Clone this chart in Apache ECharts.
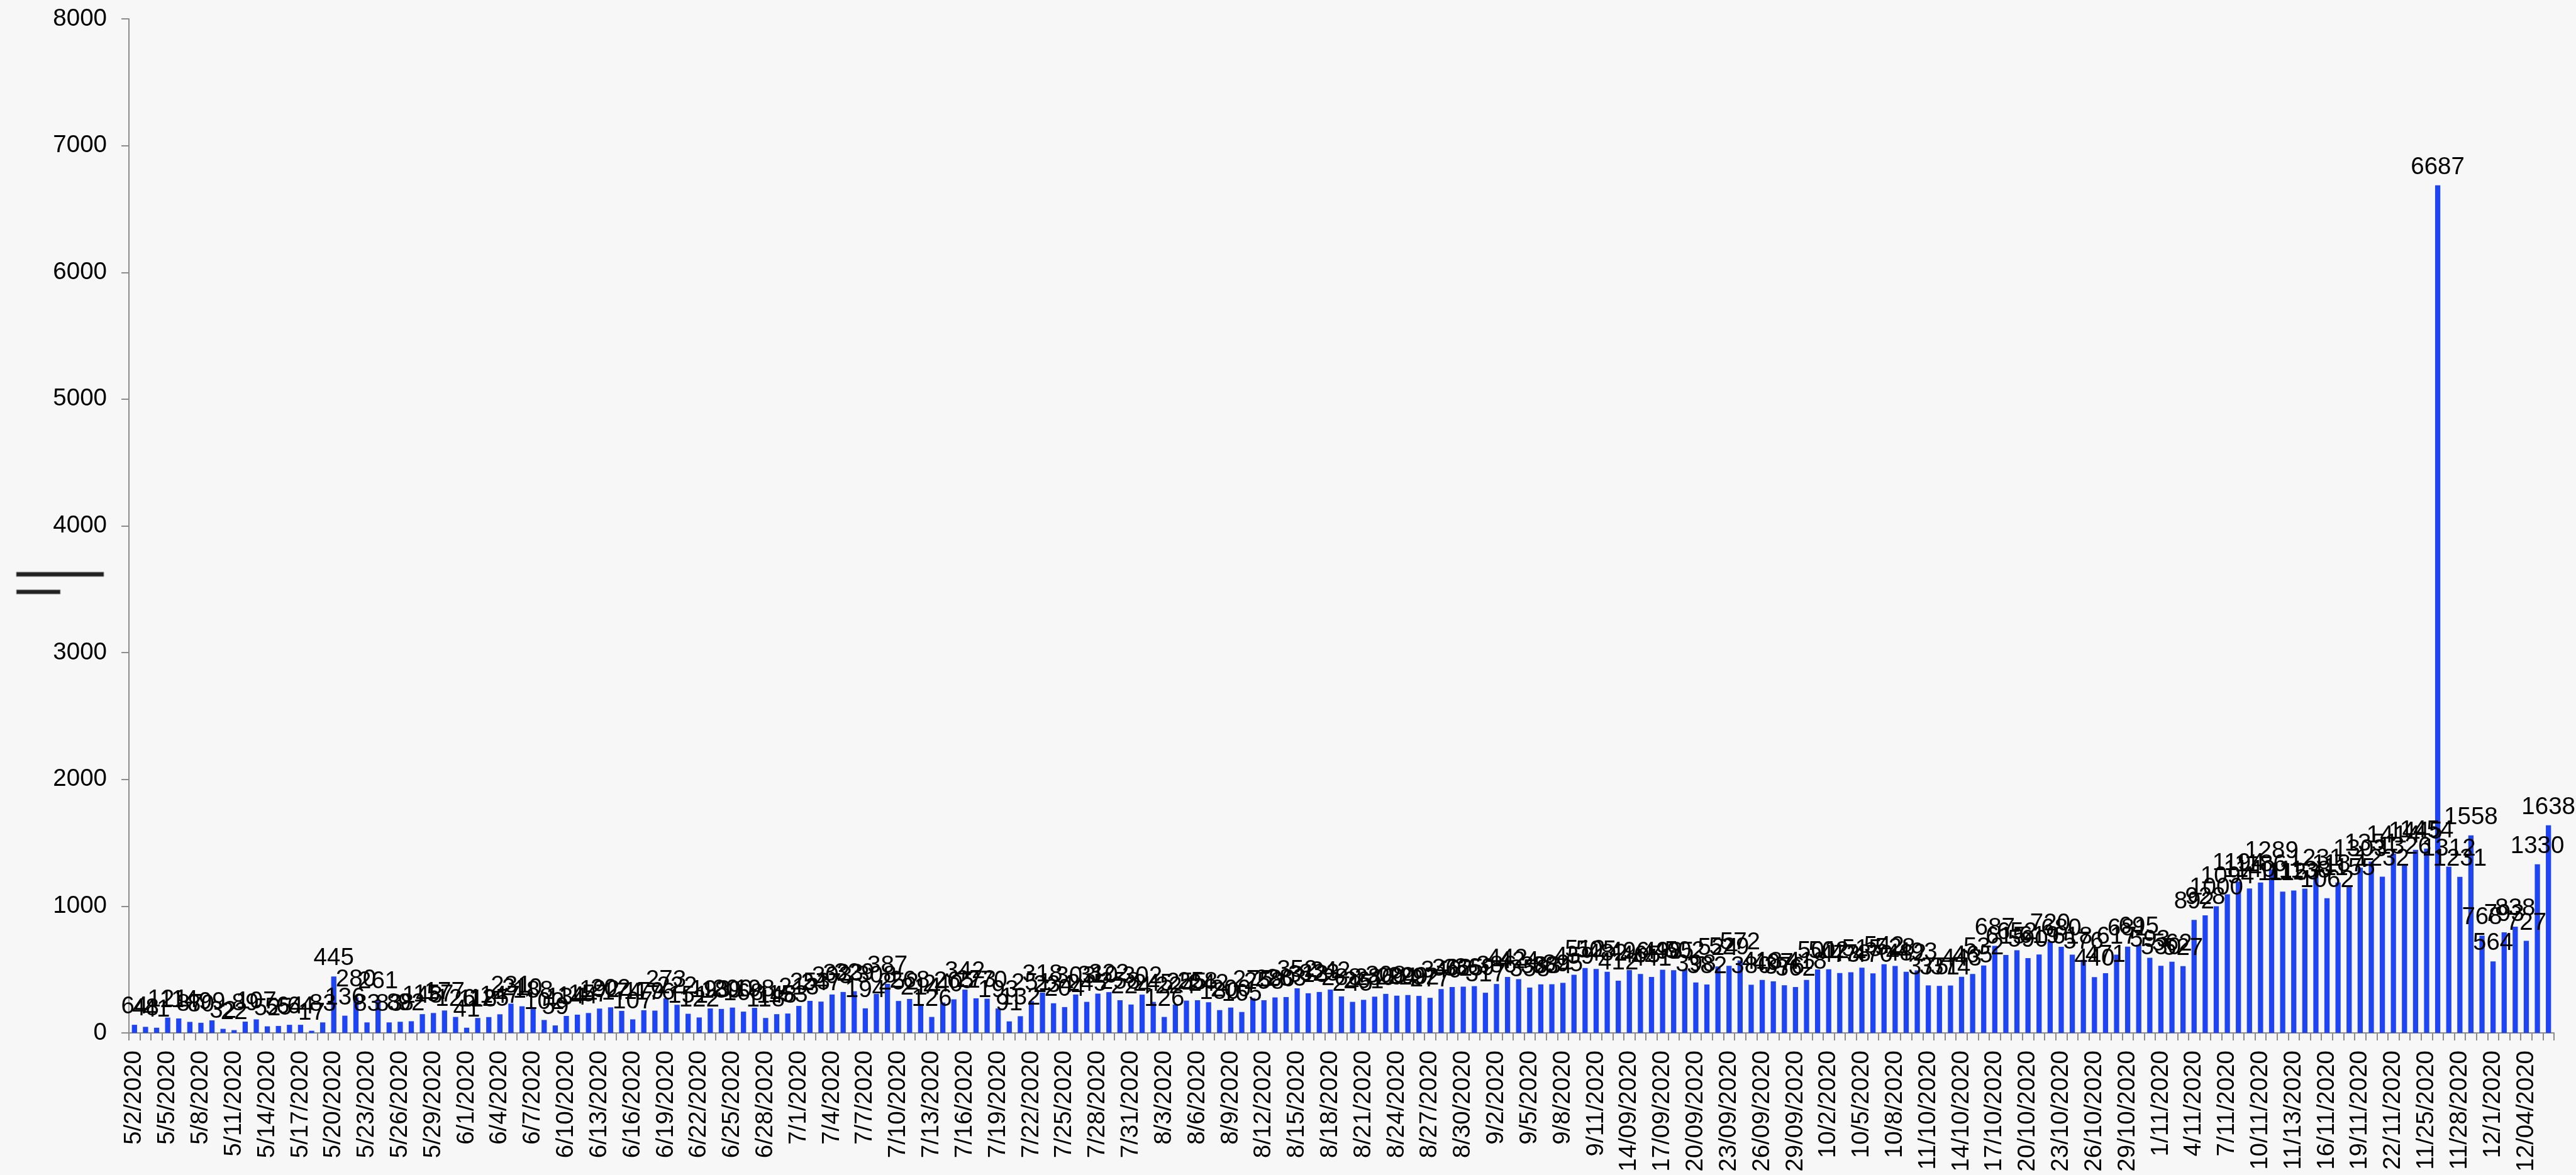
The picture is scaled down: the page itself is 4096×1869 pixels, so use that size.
<!DOCTYPE html>
<html>
<head>
<meta charset="utf-8">
<script src="https://cdn.jsdelivr.net/npm/echarts@6/dist/echarts.min.js"></script>
<style>
html,body{margin:0;padding:0;background:#f7f7f7;}
#chart{width:4096px;height:1869px;}
</style>
</head>
<body>
<div id="chart"></div>
<script>
var categories = [
"5/2/2020","5/3/2020","5/4/2020","5/5/2020","5/6/2020","5/7/2020","5/8/2020","5/9/2020","5/10/2020","5/11/2020",
"5/12/2020","5/13/2020","5/14/2020","5/15/2020","5/16/2020","5/17/2020","5/18/2020","5/19/2020","5/20/2020","5/21/2020",
"5/22/2020","5/23/2020","5/24/2020","5/25/2020","5/26/2020","5/27/2020","5/28/2020","5/29/2020","5/30/2020","5/31/2020",
"6/1/2020","6/2/2020","6/3/2020","6/4/2020","6/5/2020","6/6/2020","6/7/2020","6/8/2020","6/9/2020","6/10/2020",
"6/11/2020","6/12/2020","6/13/2020","6/14/2020","6/15/2020","6/16/2020","6/17/2020","6/18/2020","6/19/2020","6/20/2020",
"6/21/2020","6/22/2020","6/23/2020","6/24/2020","6/25/2020","6/26/2020","6/27/2020","6/28/2020","6/29/2020","6/30/2020",
"7/1/2020","7/2/2020","7/3/2020","7/4/2020","7/5/2020","7/6/2020","7/7/2020","7/8/2020","7/9/2020","7/10/2020",
"7/11/2020","7/12/2020","7/13/2020","7/14/2020","7/15/2020","7/16/2020","7/17/2020","7/18/2020","7/19/2020","7/20/2020",
"7/21/2020","7/22/2020","7/23/2020","7/24/2020","7/25/2020","7/26/2020","7/27/2020","7/28/2020","7/29/2020","7/30/2020",
"7/31/2020","8/1/2020","8/2/2020","8/3/2020","8/4/2020","8/5/2020","8/6/2020","8/7/2020","8/8/2020","8/9/2020",
"8/10/2020","8/11/2020","8/12/2020","8/13/2020","8/14/2020","8/15/2020","8/16/2020","8/17/2020","8/18/2020","8/19/2020",
"8/20/2020","8/21/2020","8/22/2020","8/23/2020","8/24/2020","8/25/2020","8/26/2020","8/27/2020","8/28/2020","8/29/2020",
"8/30/2020","8/31/2020","9/1/2020","9/2/2020","9/3/2020","9/4/2020","9/5/2020","9/6/2020","9/7/2020","9/8/2020",
"9/9/2020","9/10/2020","9/11/2020","12/09/2020","13/09/2020","14/09/2020","15/09/2020","16/09/2020","17/09/2020","18/09/2020",
"19/09/2020","20/09/2020","21/09/2020","22/09/2020","23/09/2020","24/09/2020","25/09/2020","26/09/2020","27/09/2020","28/09/2020",
"29/09/2020","30/09/2020","10/1/2020","10/2/2020","10/3/2020","10/4/2020","10/5/2020","10/6/2020","10/7/2020","10/8/2020",
"10/9/2020","10/10/2020","11/10/2020","12/10/2020","13/10/2020","14/10/2020","15/10/2020","16/10/2020","17/10/2020","18/10/2020",
"19/10/2020","20/10/2020","21/10/2020","22/10/2020","23/10/2020","24/10/2020","25/10/2020","26/10/2020","27/10/2020","28/10/2020",
"29/10/2020","30/10/2020","31/10/2020","1/11/2020","2/11/2020","3/11/2020","4/11/2020","5/11/2020","6/11/2020","7/11/2020",
"8/11/2020","9/11/2020","10/11/2020","11/11/2020","11/12/2020","11/13/2020","14/11/2020","15/11/2020","16/11/2020","17/11/2020",
"18/11/2020","19/11/2020","20/11/2020","21/11/2020","22/11/2020","23/11/2020","11/24/2020","11/25/2020","11/26/2020","11/27/2020",
"11/28/2020","11/29/2020","11/30/2020","12/1/2020","12/2/2020","12/3/2020","12/04/2020","12/05/2020","12/06/2020"
];

var valuesMay = [64,48,41,121,114,87,80,99,32,22,89,107,52,55,64,64,17,83,445,136,280,83,261,83,88,92,148,157,177,126];
var valuesJun = [41,118,125,147,231,210,188,102,59,134,144,157,192,202,174,107,179,176,273,222,151,122,193,189,200,168,198,118,148,153];
var valuesJul = [213,253,247,303,323,329,194,308,387,252,268,214,126,240,265,342,273,270,193,91,132,251,318,234,204,303,245,310,322,258,224];
var valuesAug = [302,245,126,224,255,258,242,180,200,165,275,258,280,283,352,313,323,342,288,245,261,286,308,294,299,292,277,346,362,365,369];
var valuesSep = [317,386,442,424,358,383,384,395,459,512,505,482,412,496,465,441,498,495,502,398,382,524,529,572,380,418,407,376,362,418];
var valuesOct = [501,502,473,478,515,470,542,528,482,493,375,371,374,443,465,532,687,615,652,590,619,720,680,618,576,440,471,617,681,695,593];
var valuesNov = [530,562,527,892,928,1000,1094,1194,1140,1186,1289,1115,1123,1138,1231,1062,1187,1155,1303,1351,1232,1414,1326,1445,1454,6687,1312,1231,1558,768];
var valuesDec = [564,793,838,727,1330,1638];

var values = [].concat(valuesMay, valuesJun, valuesJul, valuesAug, valuesSep, valuesOct, valuesNov, valuesDec);

var yTicks = {min: 0, max: 8000, interval: 1000};

var chart = echarts.init(document.getElementById('chart'), null, {renderer: 'canvas'});
var FONT = 'Liberation Sans';
chart.setOption({
  backgroundColor: '#f7f7f7',
  animation: false,
  grid: {left: 205, right: 35, top: 30, bottom: 226},
  graphic: [
    {type: 'rect', shape: {x: 26, y: 910, width: 139, height: 7}, style: {fill: '#222222', stroke: '#8a8a8a', lineWidth: 1}},
    {type: 'rect', shape: {x: 26, y: 938, width: 70, height: 7}, style: {fill: '#222222', stroke: '#b0b0b0', lineWidth: 1}}
  ],
  xAxis: {
    type: 'category',
    data: categories,
    boundaryGap: true,
    axisLine: {show: true, lineStyle: {color: '#8c8c8c', width: 2}},
    axisTick: {show: true, interval: 0, length: 12, lineStyle: {color: '#8c8c8c', width: 2}},
    axisLabel: {interval: 2, rotate: 90, margin: 28, color: '#000000', fontFamily: FONT, fontSize: 38.5}
  },
  yAxis: {
    type: 'value',
    min: yTicks.min, max: yTicks.max, interval: yTicks.interval,
    axisLine: {show: true, lineStyle: {color: '#8c8c8c', width: 2}},
    axisTick: {show: true, length: 12, lineStyle: {color: '#8c8c8c', width: 2}},
    splitLine: {show: false},
    axisLabel: {margin: 35, color: '#000000', fontFamily: FONT, fontSize: 38.5,
      formatter: function (v) { return String(v); }}
  },
  series: [{
    type: 'bar',
    data: values,
    barWidth: '47%',
    itemStyle: {color: '#1f45f2'},
    label: {show: true, position: 'top', distance: 9, color: '#000000', fontFamily: FONT, fontSize: 38.5}
  }]
});
</script>
</body>
</html>
